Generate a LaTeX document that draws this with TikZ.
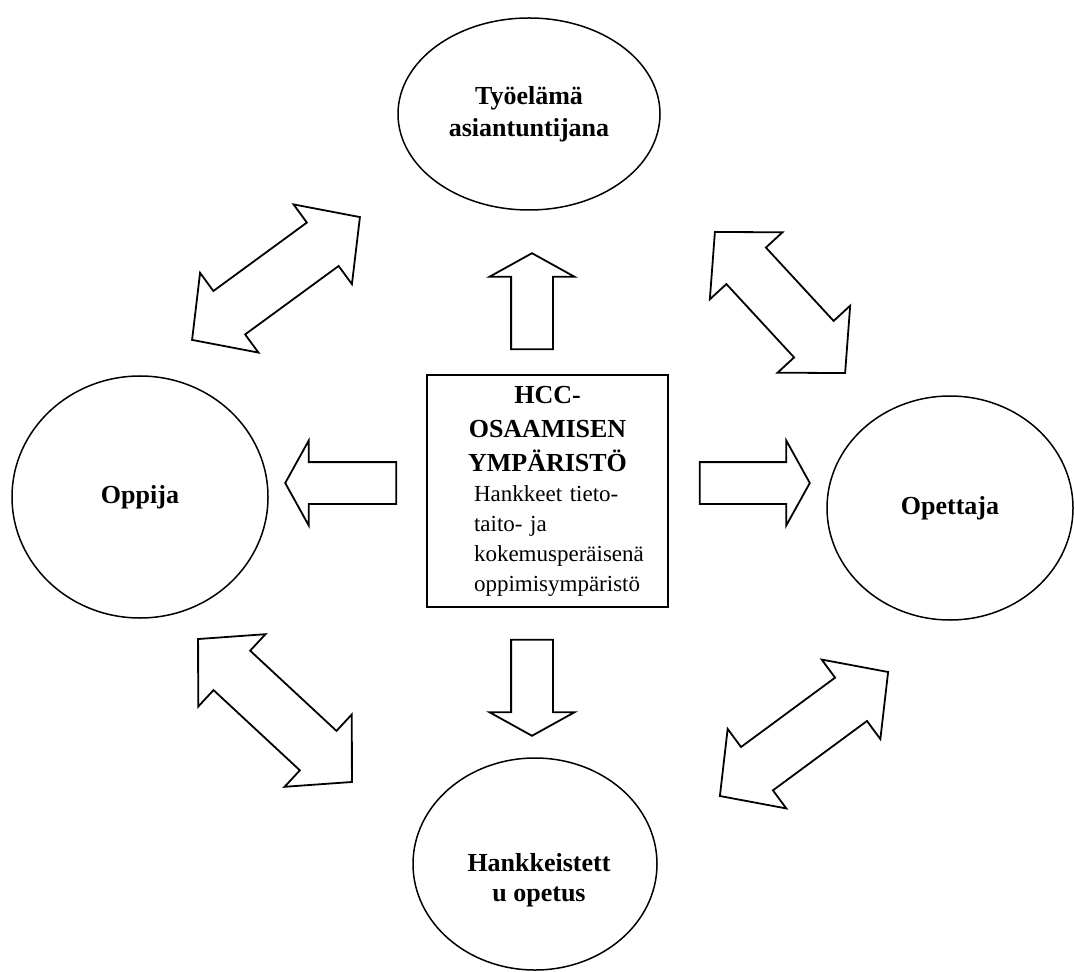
\documentclass[tikz,border=0pt]{standalone}
\usepackage{fontspec}
\setmainfont{Liberation Serif}
\usetikzlibrary{shapes.geometric, shapes.arrows, positioning}

\newcommand{\hcchead}[1]{{\fontsize{13}{17}\selectfont\bfseries #1}}
\newcommand{\hccline}[1]{\makebox[97.5pt][l]{\hspace*{12pt}#1}}

\tikzset{
  actor/.style={ellipse, draw, line width=0.75pt, inner sep=0pt, align=center,
    font=\fontsize{13}{16}\selectfont\bfseries},
  actortext/.style={align=center, font=\fontsize{13}{15}\selectfont\bfseries},
  hccbox/.style={rectangle, draw, line width=0.9pt, minimum width=120.5pt,
    minimum height=116pt, text width=97.5pt, align=center, inner sep=0pt,
    font=\fontsize{11.5}{15}\selectfont},
  blockarrow/.style={single arrow, draw, line width=0.9pt, minimum height=#1,
    minimum width=41.5pt, inner xsep=0pt, inner ysep=10pt,
    single arrow head extend=10.75pt, single arrow tip angle=122},
  linkarrow/.style={double arrow, draw, line width=0.9pt, minimum height=#1,
    minimum width=48.5pt, inner xsep=0pt, inner ysep=13pt,
    double arrow head extend=11.25pt, double arrow tip angle=94}
}

\begin{document}
\begin{tikzpicture}[x=0.5pt, y=-0.5pt]
  \useasboundingbox (0,0) rectangle (1074,972);

  % centre box
  \node [hccbox] (hcc) at (547.5,491)
    {\hcchead{HCC-}\\[2pt] \hcchead{OSAAMISEN}\\[2pt] \hcchead{YMPÄRISTÖ}\\
     \hccline{Hankkeet tieto-}\\ \hccline{taito- ja}\\
     \hccline{kokemusperäisenä}\\ \hccline{oppimisympäristö}};

  % the four parties
  \node [actor, minimum width=131pt, minimum height=96pt] (tyoelama) at (529,114) {Työelämä\\asiantuntijana};
  \node [actor, minimum width=128pt, minimum height=121pt] (oppija) at (140,497) {Oppija};
  \node [actor, minimum width=123pt, minimum height=112pt] (opettaja) at (950,508) {Opettaja};
  \node [actor, minimum width=122pt, minimum height=106pt] (opetus) at (535,864) {};
  \node [actortext] (opetusText) at ([xshift=2pt, yshift=-8pt]opetus.center) {Hankkeistett\\u opetus};

  % arrows out of the box
  \node [blockarrow=48pt, rotate=90, anchor=tail] (upArrow) at ([xshift=-7.75pt, yshift=12pt]hcc.north) {};
  \node [blockarrow=48pt, rotate=-90, anchor=tail] (downArrow) at ([xshift=-7.75pt, yshift=-15.5pt]hcc.south) {};
  \node [blockarrow=55.5pt, rotate=180, anchor=tail] (leftArrow) at ([xshift=-14.5pt, yshift=4pt]hcc.west) {};
  \node [blockarrow=55pt, anchor=tail] (rightArrow) at ([xshift=15pt, yshift=4pt]hcc.east) {};

  % arrows between the parties
  \node [linkarrow=104pt, rotate=36.2] (oppTyo) at (276,278.5) {};
  \node [linkarrow=96pt, rotate=-47.3] (tyoOpe) at (780,302.5) {};
  \node [linkarrow=105pt, rotate=-42.9] (oppOpetus) at (275,710.5) {};
  \node [linkarrow=104.5pt, rotate=36.4] (opetusOpe) at (804,734) {};
\end{tikzpicture}
\end{document}
